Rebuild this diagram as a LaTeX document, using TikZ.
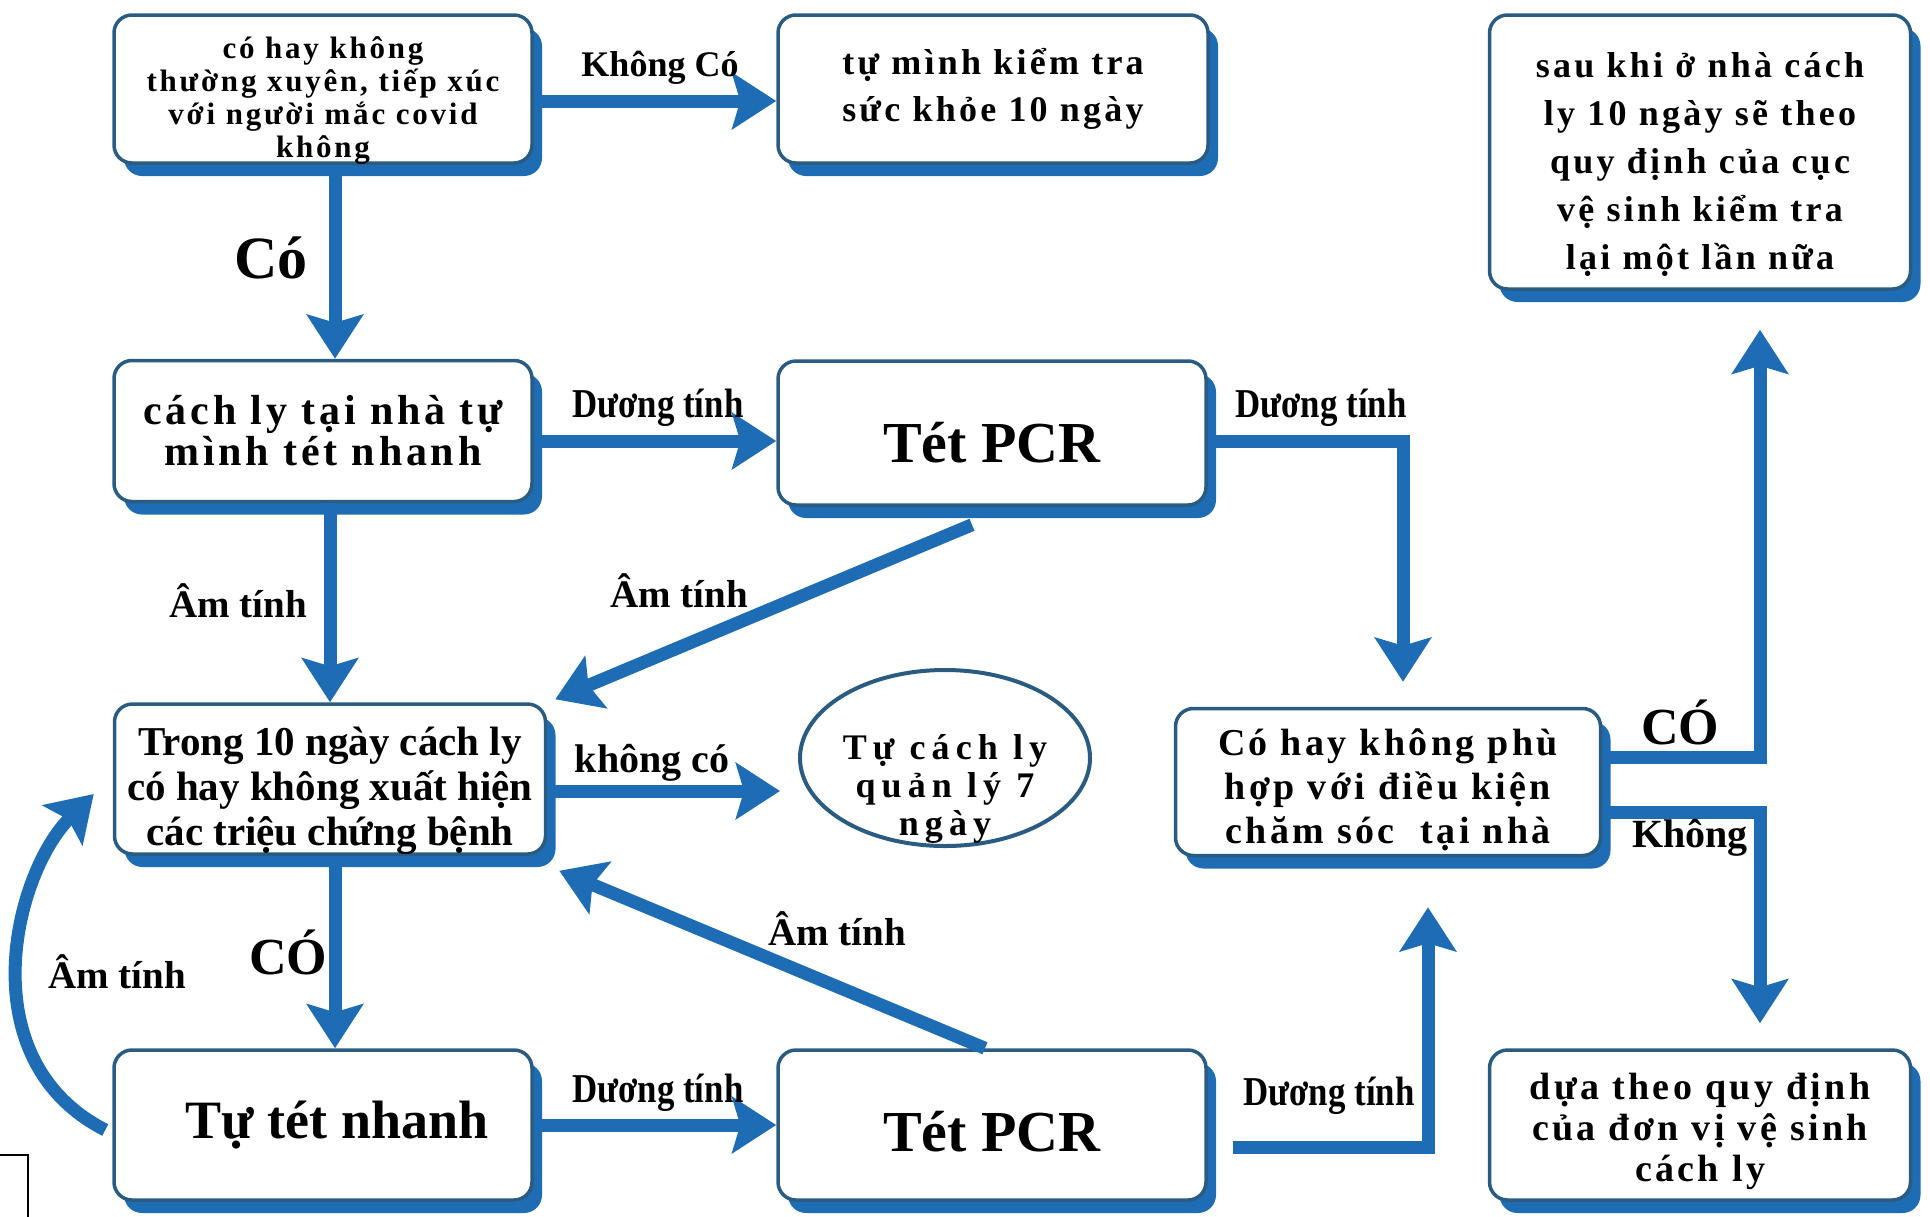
\documentclass[tikz,border=0pt]{standalone}
\usepackage{fontspec}
\setmainfont{Liberation Serif}
\newfontfamily\boxfont{Liberation Serif}[LetterSpace=9]
\newfontfamily\ovalfont{Liberation Serif}[LetterSpace=17]
\newfontfamily\narrowfont{Liberation Serif}[FakeStretch=0.85]
\usetikzlibrary{arrows.meta,shadows,shapes.geometric}
\definecolor{arrowblue}{HTML}{1E6CB4}
\definecolor{edgeblue}{HTML}{2A5C82}

\begin{document}
\begin{tikzpicture}[x=1pt, y=-1pt,
	box/.style={draw=edgeblue, line width=3.5pt, fill=white, rounded corners=18pt, align=center, inner sep=0pt,
		drop shadow={shadow xshift=10pt, shadow yshift=-13pt, fill=arrowblue, opacity=1}},
	arr/.style={draw=arrowblue, line width=13pt, -{Stealth[length=44pt, width=56pt, inset=8pt]}},
	lbl/.style={inner sep=0pt, font=\bfseries\fontsize{39}{41}\selectfont},
	duong/.style={inner sep=0pt, font=\narrowfont\bfseries\fontsize{41}{43}\selectfont}]
	\useasboundingbox (0,0) rectangle (1930,1216);

	\node [box, minimum width=418pt, minimum height=148pt, text height=136pt, text depth=0pt, font=\boxfont\bfseries\fontsize{31}{33}\selectfont] (b1) at (323,89) {có hay không\\thường xuyên, tiếp xúc\\với người mắc covid\\không};
	\node [box, minimum width=430pt, minimum height=148pt, font=\boxfont\bfseries\fontsize{36}{47}\selectfont] (b2) at (993,89) {tự mình kiểm tra\\sức khỏe 10 ngày};
	\node [box, minimum width=421pt, minimum height=274pt, text height=235pt, text depth=0pt, font=\boxfont\bfseries\fontsize{36}{48}\selectfont] (b3) at (1700,152) {sau khi ở nhà cách\\ly 10 ngày sẽ theo\\quy định của cục\\vệ sinh kiểm tra\\lại một lần nữa};
	\node [box, minimum width=418pt, minimum height=141pt, font=\boxfont\bfseries\fontsize{42}{41}\selectfont] (b4) at (323,431) {cách ly tại nhà tự\\mình tét nhanh};
	\node [box, minimum width=428pt, minimum height=144pt, text height=58pt, text depth=0pt, font=\bfseries\fontsize{58}{60}\selectfont] (b5) at (992,433) {Tét PCR};
	\node [box, minimum width=431pt, minimum height=150pt, text height=132pt, text depth=0pt, font=\bfseries\fontsize{41}{45}\selectfont] (b6) at (330,779) {Trong 10 ngày cách ly\\có hay không xuất hiện\\các triệu chứng bệnh};
	\node [draw=edgeblue, line width=4pt, ellipse, minimum width=290pt, minimum height=176pt, inner xsep=0pt, inner ysep=-45pt, align=center,
		text height=155pt, text depth=0pt, font=\ovalfont\bfseries\fontsize{36}{38}\selectfont] (el) at (945,758) {Tự cách ly\\quản lý 7\\ngày};
	\node [box, minimum width=425pt, minimum height=147pt, text height=123pt, text depth=0pt, font=\boxfont\bfseries\fontsize{38}{44}\selectfont] (b7) at (1388,782) {Có hay không phù\\hợp với điều kiện\\chăm sóc\ \ tại nhà};
	\node [box, minimum width=418pt, minimum height=150pt, font=\bfseries\fontsize{54}{56}\selectfont] (b8) at (323,1125) {\hspace*{28pt}Tự tét nhanh};
	\node [box, minimum width=428pt, minimum height=150pt, text height=53pt, text depth=0pt, font=\bfseries\fontsize{58}{60}\selectfont] (b9) at (992,1125) {Tét PCR};
	\node [box, minimum width=421pt, minimum height=150pt, text height=113pt, text depth=0pt, font=\boxfont\bfseries\fontsize{38}{41}\selectfont] (b10) at (1700,1125) {dựa theo quy định\\của đơn vị vệ sinh\\cách ly};

	\draw [arr] ([yshift=-12pt]b1.east) -- ([yshift=-12pt]b1.east -| b2.west);
	\draw [arr] ([xshift=12pt]b1.south) -- ([xshift=12pt]b1.south |- b4.north);
	\draw [arr] ([yshift=-10pt]b4.east) -- ([yshift=-10pt]b4.east -| b5.west);
	\draw [arr] ([xshift=7pt]b4.south) -- ([xshift=7pt]b4.south |- b6.north);
	\draw [arr] ([xshift=-20pt,yshift=-18pt]b5.south) -- ([xshift=8pt,yshift=3pt]b6.north east);
	\draw [arr] ([yshift=-8pt]b5.east) -| ([xshift=15pt,yshift=25pt]b7.north);
	\draw [arr, shorten >=18pt] ([yshift=-12pt]b6.east) -- ([yshift=-12pt]b6.east -| el.west);
	\draw [arr] ([xshift=5pt]b6.south) -- ([xshift=5pt]b6.south |- b8.north);
	\draw [arr] ([xshift=-7pt,yshift=-5pt]b8.west) .. controls +(-137,-70) and +(-80,80) .. ([xshift=-19pt,yshift=-15pt]b6.west);
	\draw [arr] (b8.east) -- (b8.east -| b9.west);
	\draw [arr] ([xshift=-7pt]b9.north) -- ([xshift=12pt,yshift=-15pt]b6.south east);
	\draw [arr] ([xshift=25pt,yshift=-22pt]b9.east) -| ([xshift=40pt,yshift=-50pt]b7.south);
	\draw [arr] ([yshift=25pt]b7.east) -| ([xshift=60pt,yshift=-39pt]b3.south);
	\draw [arr] ([yshift=-30pt]b7.east) -| ([xshift=60pt,yshift=25pt]b10.north);

	\node [lbl, font=\bfseries\fontsize{36}{38}\selectfont] (t1) at (660,68) {Không Có};
	\node [lbl, font=\bfseries\fontsize{60}{62}\selectfont] (t2) at (271,258) {Có};
	\node [duong] (t3) at (658,408) {Dương tính};
	\node [duong] (t4) at (1321,408) {Dương tính};
	\node [lbl] (t5) at (238,601) {Âm tính};
	\node [lbl] (t6) at (679,591) {Âm tính};
	\node [lbl, font=\bfseries\fontsize{40}{42}\selectfont] (t7) at (652,763) {không có};
	\node [lbl, font=\bfseries\fontsize{52}{54}\selectfont] (t8) at (1680,722) {CÓ};
	\node [lbl, font=\bfseries\fontsize{40}{42}\selectfont] (t9) at (1690,838) {Không};
	\node [lbl] (t10) at (117,972) {Âm tính};
	\node [lbl, font=\bfseries\fontsize{52}{54}\selectfont] (t11) at (288,952) {CÓ};
	\node [lbl] (t12) at (837,929) {Âm tính};
	\node [duong] (t13) at (658,1093) {Dương tính};
	\node [duong] (t14) at (1329,1096) {Dương tính};

	\draw [line width=1.5pt] (-5,1155) rectangle (28,1222);
\end{tikzpicture}
\end{document}
